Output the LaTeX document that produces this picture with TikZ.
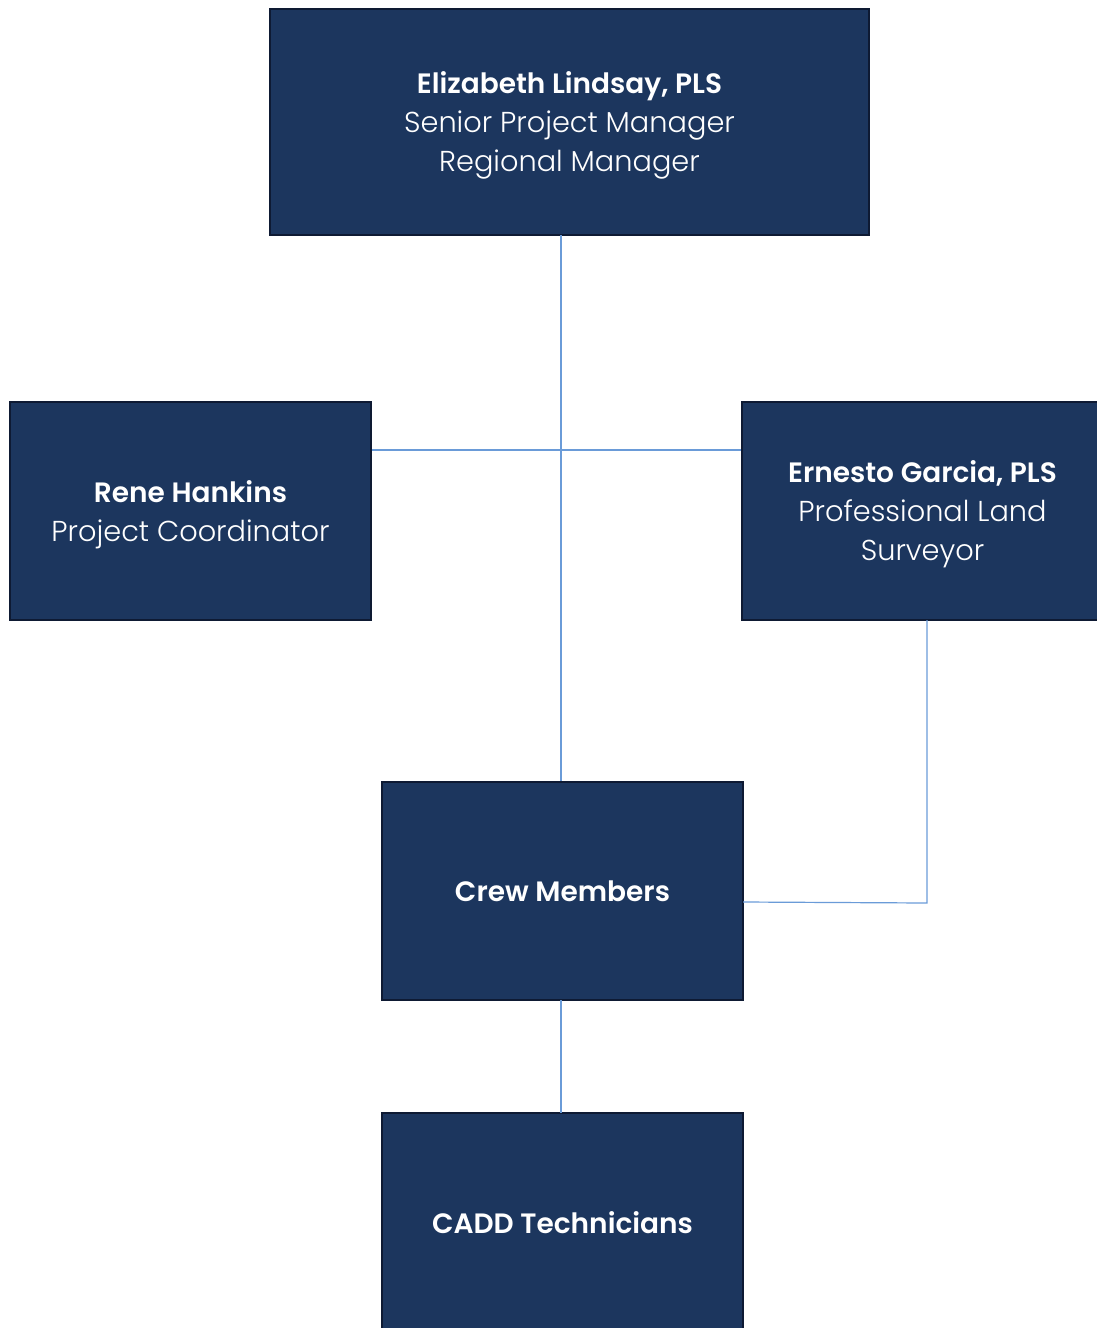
\documentclass[tikz,border=0pt]{standalone}
\usepackage{fontspec}
\setmainfont{Poppins}[UprightFont=* Light, BoldFont=* SemiBold]
\definecolor{boxfill}{HTML}{1C365E}
\definecolor{boxline}{HTML}{0E1A33}
\definecolor{conn}{HTML}{6A9BD8}
\newcommand{\pname}[1]{{\fontsize{21}{29.25}\selectfont\bfseries #1}}
\tikzset{
  orgbox/.style={draw=boxline, line width=1.5pt, fill=boxfill, inner sep=0pt},
  boxtext/.style={text=white, align=center, inner sep=0pt,
    font=\fontsize{21.6}{29.25}\selectfont},
  link/.style={draw=conn, line width=0.9pt}
}
\begin{document}
\begin{tikzpicture}[x=0.75pt, y=-0.75pt]
\useasboundingbox (0,0) rectangle (1096,1328);
\node[orgbox, minimum width=599*0.75pt, minimum height=226*0.75pt] (top) at (569.5,122) {};
\node[orgbox, minimum width=361*0.75pt, minimum height=218*0.75pt] (left) at (190.5,511) {};
\node[orgbox, minimum width=361*0.75pt, minimum height=218*0.75pt] (right) at (922.5,511) {};
\node[orgbox, minimum width=361*0.75pt, minimum height=218*0.75pt] (crew) at (562.5,890.5) {};
\node[orgbox, minimum width=361*0.75pt, minimum height=218*0.75pt] (cadd) at (562.5,1222) {};
\node[boxtext] (toptext) at ([yshift=-2.2pt]top.center)
  {\pname{Elizabeth Lindsay, PLS}\\Senior Project Manager\\Regional Manager};
\node[boxtext] (lefttext) at ([yshift=-2.8pt]left.center)
  {\pname{Rene Hankins}\\Project Coordinator};
\node[boxtext] (righttext) at ([yshift=-2.2pt]right.center)
  {\pname{Ernesto Garcia, PLS}\\Professional Land\\Surveyor};
\node[boxtext] (crewtext) at ([yshift=-0.6pt]crew.center)
  {\pname{Crew Members}};
\node[boxtext] (caddtext) at ([yshift=-0.6pt]cadd.center)
  {\pname{CADD Technicians}};
\coordinate (tdrop) at (561,235);
\coordinate (cup) at (561,781);
\coordinate (cdown) at (561,1000);
\coordinate (caddup) at (561,1113);
\coordinate (rdrop) at (927,620);
\coordinate (rcorner) at (927,903);
\coordinate (cright) at (743,902);
\draw[link] (tdrop) -- (cup);
\draw[link] (left.east |- 0,450) -- (right.west |- 0,450);
\draw[link] (rdrop) -- (rcorner) -- (cright);
\draw[link] (cdown) -- (caddup);
\end{tikzpicture}
\end{document}
